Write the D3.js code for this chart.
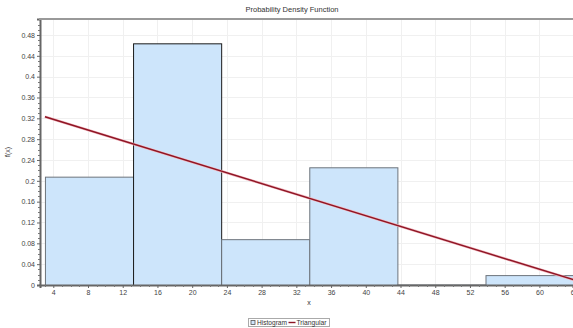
<!DOCTYPE html>
<html>
<head>
<meta charset="utf-8">
<script src="https://cdn.jsdelivr.net/npm/d3@7"></script>
<style>
  html, body { margin: 0; padding: 0; background: #fff; }
  svg { display: block; font-family: "Liberation Sans", Arial, sans-serif; }
</style>
</head>
<body>
<svg id="chart" width="573" height="328"></svg>
<script>
// Histogram bins (lower edge, upper edge) and relative frequencies
const binEdges = [3.04, 13.19, 23.34, 33.49, 43.64, 53.79, 63.94];
const binValues = [0.208, 0.464, 0.088, 0.226, 0.001, 0.019];
// Fitted triangular density, scaled to the bin width (end points)
const triX = [3.04, 63.94];
const triY = [0.323, 0.010];
// Tick labels
const xTicks = [4, 8, 12, 16, 20, 24, 28, 32, 36, 40, 44, 48, 52, 56, 60, 64];
const yTicks = [0, 0.04, 0.08, 0.12, 0.16, 0.2, 0.24, 0.28, 0.32, 0.36, 0.4, 0.44, 0.48];

const svg = d3.select("#chart");
const margin = { left: 40, right: 0, top: 19, bottom: 43 };
const W = 573, H = 328;

const x = d3.scaleLinear().domain([2.47, 63.87]).range([margin.left, W - margin.right]);
const y = d3.scaleLinear().domain([0, 0.5107]).range([H - margin.bottom, margin.top]);

const plot = svg.append("g");
const clipId = "plotclip";
svg.append("defs").append("clipPath").attr("id", clipId)
  .append("rect").attr("x", margin.left).attr("y", margin.top)
  .attr("width", W - margin.left - margin.right).attr("height", H - margin.top - margin.bottom);

// Grid
plot.append("g").selectAll("line").data(xTicks).join("line")
  .attr("x1", d => Math.round(x(d)) + 0.5).attr("x2", d => Math.round(x(d)) + 0.5)
  .attr("y1", y.range()[1]).attr("y2", y.range()[0])
  .attr("stroke", "#f0f0f0").attr("stroke-width", 1);
plot.append("g").selectAll("line").data(yTicks.slice(1)).join("line")
  .attr("x1", margin.left).attr("x2", W)
  .attr("y1", d => Math.round(y(d)) + 0.5).attr("y2", d => Math.round(y(d)) + 0.5)
  .attr("stroke", "#f0f0f0").attr("stroke-width", 1);

// Bars
const bins = binValues.map((v, i) => ({ x0: binEdges[i], x1: binEdges[i + 1], v }));
const barG = plot.append("g").attr("clip-path", `url(#${clipId})`);
barG.selectAll("rect").data(bins).join("rect")
  .attr("x", d => x(d.x0) + 0.5)
  .attr("y", d => y(d.v) + 0.5)
  .attr("width", d => x(d.x1) - x(d.x0))
  .attr("height", d => y(0) - y(d.v))
  .attr("fill", "#cde5fb")
  .attr("stroke", (d, i) => i === 1 ? "#1a1a1a" : "#6d747c")
  .attr("stroke-width", 1);

// Triangular curve
const line = d3.line().x(d => x(d[0])).y(d => y(d[1]));
const pts = triX.map((v, i) => [v, triY[i]]);
barG.append("path").datum(pts).attr("d", line)
  .attr("fill", "none").attr("stroke", "#f2b8c0").attr("stroke-width", 2.6);
barG.append("path").datum(pts).attr("d", line)
  .attr("fill", "none").attr("stroke", "#8e1524").attr("stroke-width", 1.4);

// Axes
const fmt = d => d3.format("~g")(d);
const yAxis = d3.axisLeft(y).tickValues(yTicks).tickFormat(fmt).tickSize(3).tickPadding(2);
const gy = svg.append("g").attr("transform", `translate(${margin.left},0)`).call(yAxis);
const xAxis = d3.axisBottom(x).tickValues(xTicks).tickFormat(fmt).tickSize(3).tickPadding(2);
const gx = svg.append("g").attr("transform", `translate(0,${H - margin.bottom})`).call(xAxis);

// Minor ticks
const yMinor = d3.range(0.01, 0.51, 0.01).filter(v => Math.abs(v / 0.04 - Math.round(v / 0.04)) > 1e-6);
svg.append("g").selectAll("line").data(yMinor).join("line")
  .attr("x1", margin.left - 2).attr("x2", margin.left)
  .attr("y1", d => Math.round(y(d)) + 0.5).attr("y2", d => Math.round(y(d)) + 0.5)
  .attr("stroke", "#777").attr("stroke-width", 1);
const xMinor = d3.range(3, 64, 1).filter(v => v % 4 !== 0);
svg.append("g").selectAll("line").data(xMinor).join("line")
  .attr("x1", d => Math.round(x(d)) + 0.5).attr("x2", d => Math.round(x(d)) + 0.5)
  .attr("y1", y(0)).attr("y2", y(0) + 2)
  .attr("stroke", "#777").attr("stroke-width", 1);

[gx, gy].forEach(g => {
  g.selectAll("text").attr("font-size", 7).attr("fill", "#444")
    .attr("font-family", "Liberation Sans, Arial, sans-serif");
  g.selectAll(".tick line").attr("stroke", "#666");
  g.select(".domain").attr("stroke", "#666").attr("stroke-width", 2);
});

// Top border
svg.append("line").attr("x1", margin.left - 1).attr("x2", W)
  .attr("y1", margin.top).attr("y2", margin.top)
  .attr("stroke", "#999").attr("stroke-width", 2);

// Title and axis labels
svg.append("text").attr("x", 292).attr("y", 12).attr("text-anchor", "middle")
  .attr("font-size", 7.5).attr("fill", "#333").text("Probability Density Function");
svg.append("text").attr("x", 309).attr("y", 305).attr("text-anchor", "middle")
  .attr("font-size", 7).attr("fill", "#333").text("x");
svg.append("text").attr("transform", "translate(10,152) rotate(-90)").attr("text-anchor", "middle")
  .attr("font-size", 7).attr("fill", "#333").text("f(x)");

// Legend
const lg = svg.append("g").attr("transform", "translate(248.5,318.5)");
lg.append("rect").attr("x", 0).attr("y", 0).attr("width", 81).attr("height", 8)
  .attr("fill", "#fff").attr("stroke", "#aaa").attr("stroke-width", 1);
lg.append("rect").attr("x", 2.5).attr("y", 2).attr("width", 4).attr("height", 4)
  .attr("fill", "#cde5fb").attr("stroke", "#555").attr("stroke-width", 0.8);
lg.append("text").attr("x", 8.5).attr("y", 6.5).attr("font-size", 6.5).attr("fill", "#333")
  .attr("textLength", 30).attr("lengthAdjust", "spacingAndGlyphs").text("Histogram");
lg.append("line").attr("x1", 40).attr("x2", 47).attr("y1", 4).attr("y2", 4)
  .attr("stroke", "#8e1524").attr("stroke-width", 1.4);
lg.append("text").attr("x", 48).attr("y", 6.5).attr("font-size", 6.5).attr("fill", "#333")
  .attr("textLength", 30).attr("lengthAdjust", "spacingAndGlyphs").text("Triangular");
</script>
</body>
</html>
